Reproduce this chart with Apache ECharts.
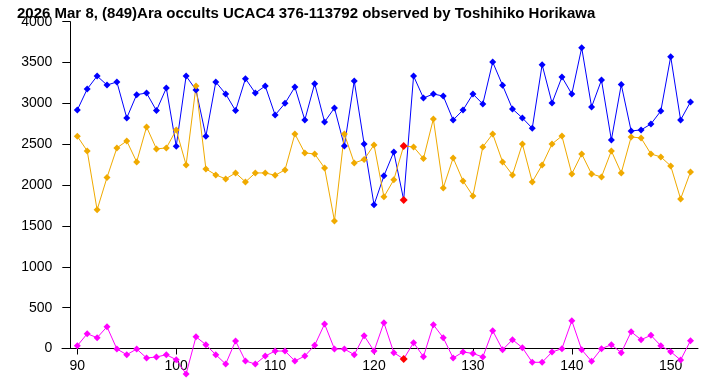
<!DOCTYPE html>
<html>
<head>
<meta charset="utf-8">
<title>(849)Ara occultation</title>
<script src="https://cdn.jsdelivr.net/npm/echarts@6.0.0/dist/echarts.min.js"></script>
<style>
    html, body { margin: 0; padding: 0; background: #fff; }
    #main { width: 728px; height: 378px; }
</style>
</head>
<body>
<div id="main"></div>
<script>
// 帧号
var frames = [90, 91, 92, 93, 94, 95, 96, 97, 98, 99,
    100, 101, 102, 103, 104, 105, 106, 107, 108, 109,
    110, 111, 112, 113, 114, 115, 116, 117, 118, 119,
    120, 121, 122, 123, 124, 125, 126, 127, 128, 129,
    130, 131, 132, 133, 134, 135, 136, 137, 138, 139,
    140, 141, 142, 143, 144, 145, 146, 147, 148, 149,
    150, 151, 152];

// 蓝色曲线
var blueVals = [2919, 3176, 3335, 3225, 3262, 2822, 3107, 3127, 2912, 3188,
    2476, 3335, 3164, 2598, 3262, 3115, 2912, 3303, 3127, 3213,
    2858, 3001, 3200, 2797, 3242, 2773, 2944, 2479, 3274, 2504,
    1758, 2113, 2406, 1819, 3335, 3066, 3115, 3090, 2797, 2919,
    3115, 2993, 3506, 3221, 2932, 2822, 2696, 3474, 3005, 3323,
    3115, 3682, 2956, 3286, 2553, 3230, 2663, 2675, 2748, 2907,
    3572, 2797, 3017];

// 橙色曲线
var orangeVals = [2598, 2418, 1697, 2093, 2455, 2540, 2284, 2712, 2443, 2455,
    2675, 2247, 3213, 2198, 2125, 2076, 2149, 2039, 2149, 2149,
    2120, 2186, 2626, 2394, 2381, 2210, 1562, 2626, 2271, 2313,
    2492, 1856, 2064, 2479, 2467, 2325, 2809, 1966, 2333, 2051,
    1868, 2467, 2626, 2284, 2125, 2504, 2039, 2247, 2504, 2601,
    2137, 2381, 2137, 2100, 2418, 2149, 2589, 2577, 2381, 2345,
    2235, 1831, 2161];

// 品红曲线
var magentaVals = [34, 181, 132, 266, -6, -76, -6, -116, -104, -76,
    -137, -312, 144, 46, -76, -190, 92, -153, -190, -92,
    -31, -31, -153, -92, 39, 300, -6, -6, -76, 157,
    -31, 316, -51, -128, 71, -100, 291, 132, -116, -43,
    -60, -104, 218, -15, 108, 10, -169, -169, -43, -2,
    340, -15, -157, -2, 46, -51, 205, 108, 161, 34,
    -39, -141, 95];

// 掩星帧（红点）
var eventFrames = [123];

// 刻度
var xTicks = [90, 100, 110, 120, 130, 140, 150];

var titleText = '2026 Mar 8, (849)Ara occults UCAC4 376-113792 observed by Toshihiko Horikawa';

var font = '"Liberation Sans", Arial, sans-serif';

function $each(arr, fn) {
    for (var i = 0; i < arr.length; i++) {
        fn(i, arr[i]);
    }
}

// 生成 [x, y] 数据, 掩星帧标红
function pairs(vals) {
    var out = [];
    $each(vals, function(i, v) {
        var item = { value: [frames[i], v] };
        if (eventFrames.indexOf(frames[i]) >= 0) {
            item.itemStyle = { color: '#ff0000' };
            item.symbolSize = 8;
            item.z = 10;
        }
        out.push(item);
    });
    return out;
}

// 折线, 不裁剪 (负值画在 0 线下面)
function lineSeries(name, vals, color) {
    return {
        name: name,
        type: 'line',
        data: pairs(vals),
        clip: false,
        symbol: 'diamond',
        symbolSize: 7,
        showSymbol: true,
        itemStyle: { color: color },
        lineStyle: { color: color, width: 1 },
        emphasis: { disabled: true }
    };
}

var myChart = echarts.init(document.getElementById('main'), null, { renderer: 'canvas' });

var option = {
    animation: false,
    backgroundColor: '#fff',
    title: {
        text: titleText,
        left: 12,
        top: 1,
        textStyle: {
            fontFamily: font,
            fontSize: 15,
            fontWeight: 'bold',
            color: '#000'
        }
    },
    grid: {
        left: 62,
        right: 30,
        top: 21.7,
        bottom: 29.5,
        containLabel: false,
        outerBoundsMode: 'none'
    },
    xAxis: {
        type: 'value',
        min: 88.45,
        max: 152.76,
        axisLine: { show: true, onZero: false, lineStyle: { color: '#000', width: 1 } },
        axisTick: { show: true, length: 6, customValues: xTicks, lineStyle: { color: '#000' } },
        axisLabel: {
            customValues: xTicks,
            margin: 11,
            fontFamily: font,
            fontSize: 14,
            color: '#000',
            formatter: function(v) { return String(v); }
        },
        splitLine: { show: false }
    },
    yAxis: {
        type: 'value',
        min: 0,
        max: 4000,
        interval: 500,
        offset: -8.3,
        axisLine: { show: true, lineStyle: { color: '#000', width: 1 } },
        axisTick: { show: true, length: 8, lineStyle: { color: '#000' } },
        axisLabel: {
            margin: 18,
            fontFamily: font,
            fontSize: 14,
            color: '#000',
            formatter: function(v) { return String(v); }
        },
        splitLine: { show: false }
    },
    series: [
        lineSeries('blue', blueVals, '#0000ff'),
        lineSeries('orange', orangeVals, '#f0aa00'),
        lineSeries('magenta', magentaVals, '#ff00ff')
    ]
};

myChart.setOption(option);
</script>
</body>
</html>
